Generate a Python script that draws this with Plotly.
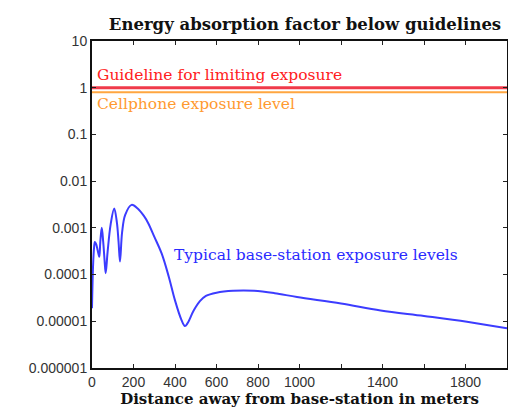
import plotly.graph_objects as go

distance_m = [0, 5, 10, 14, 20, 28, 35, 40, 47, 54, 60, 66, 75, 90, 107, 120, 128, 135,
              145, 160, 191, 220, 250, 271, 300, 336, 370, 400, 430, 448, 460, 490, 520,
              549, 600, 680, 781, 880, 988, 1200, 1391, 1600, 1807, 2000]
exposure = [1.9e-5, 1.5e-4, 3.8e-4, 5.0e-4, 4.5e-4, 3.2e-4, 2.4e-4, 5e-4, 1.0e-3, 5e-4,
            2.2e-4, 1.07e-4, 3e-4, 1.2e-3, 2.6e-3, 1.3e-3, 5e-4, 1.9e-4, 8e-4, 1.9e-3,
            3.1e-3, 2.6e-3, 1.8e-3, 1.26e-3, 6.5e-4, 2.8e-4, 9e-5, 2.8e-5, 1.1e-5, 7.9e-6,
            9e-6, 1.7e-5, 2.7e-5, 3.5e-5, 4.1e-5, 4.5e-5, 4.5e-5, 4.0e-5, 3.3e-5, 2.4e-5,
            1.7e-5, 1.3e-5, 9.8e-6, 7.1e-6]
guideline_level = 1.0
cellphone_level = 0.8
x_range = [0, 2000]
x_tickvals = [0, 200, 400, 600, 800, 1000, 1200, 1400, 1600, 1800]
x_ticktext = ["0", "200", "400", "600", "800", "1000", "", "1400", "", "1800"]
y_tickvals = [1e-6, 1e-5, 1e-4, 1e-3, 1e-2, 1e-1, 1, 10]
y_ticktext = ["0.000001", "0.00001", "0.0001", "0.001", "0.01", "0.1", "1", "10"]

fig = go.Figure()
fig.add_trace(go.Scatter(x=x_range, y=[guideline_level] * 2, mode="lines",
                         line=dict(color="#f03a4a", width=3), showlegend=False))
fig.add_trace(go.Scatter(x=x_range, y=[cellphone_level] * 2, mode="lines",
                         line=dict(color="#ffa640", width=2), showlegend=False))
fig.add_trace(go.Scatter(x=distance_m, y=exposure, mode="lines", line_shape="spline",
                         line=dict(color="#3c3cff", width=2), showlegend=False))

serif = "DejaVu Serif"
fig.add_annotation(x=0.008, xref="paper", y=0.28, yref="y", yanchor="middle",
                   xanchor="left", showarrow=False, text="Guideline for limiting exposure",
                   font=dict(family=serif, size=15.5, color="#ff2020"))
fig.add_annotation(x=0.008, xref="paper", y=-0.34, yref="y", yanchor="middle",
                   xanchor="left", showarrow=False, text="Cellphone exposure level",
                   font=dict(family=serif, size=15.5, color="#ff9a30"))
fig.add_annotation(x=385, xref="x", y=-3.58, yref="y", yanchor="middle",
                   xanchor="left", showarrow=False, text="Typical base-station exposure levels",
                   font=dict(family=serif, size=15.5, color="#2a2aff"))

fig.update_layout(
    width=508, height=410,
    margin=dict(l=92, r=1, t=41, b=42),
    paper_bgcolor="white", plot_bgcolor="white",
    title=dict(text="<b>Energy absorption factor below guidelines</b>",
               x=305 / 508, xanchor="center", y=1 - 24 / 410, yanchor="middle",
               font=dict(family=serif, size=16.5, color="#111")),
    xaxis=dict(range=x_range, tickvals=x_tickvals, ticktext=x_ticktext, automargin=False,
               ticks="inside", ticklen=4, tickcolor="#222", showgrid=False, zeroline=False,
               showline=True, linecolor="#111", linewidth=2, mirror="ticks",
               tickfont=dict(family="Liberation Sans", size=14, color="#333"),
               title=dict(text="<b>Distance away from base-station in meters</b>",
                          font=dict(family=serif, size=15, color="#111"), standoff=0)),
    yaxis=dict(type="log", range=[-6, 1], tickvals=y_tickvals, ticktext=y_ticktext,
               automargin=False,
               ticks="inside", ticklen=4, tickcolor="#222", showgrid=False, zeroline=False,
               showline=True, linecolor="#111", linewidth=2, mirror="ticks",
               tickfont=dict(family="Liberation Sans", size=14, color="#333")),
)
fig.write_html("out.html", config={"displayModeBar": False},
               post_script="document.body.style.margin='0px';document.body.style.overflow='hidden';")
